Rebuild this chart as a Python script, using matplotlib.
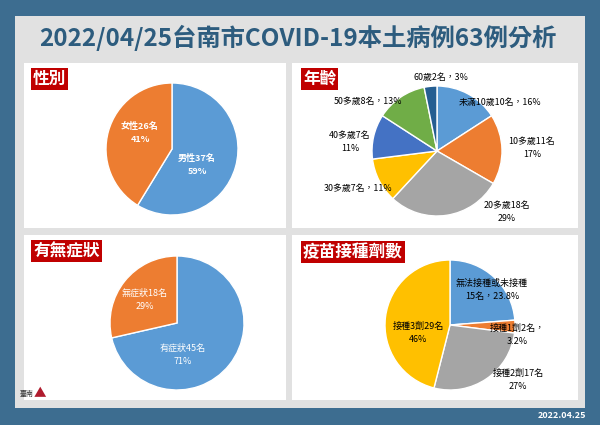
import matplotlib.pyplot as plt
from matplotlib.patches import Rectangle

plt.rcParams['font.family'] = ['Noto Sans CJK TC', 'DejaVu Sans']

# data
sex_labels = ['男性', '女性']
sex_counts = [37, 26]
sex_pct = ['59%', '41%']

age_labels = ['未滿10歲', '10多歲', '20多歲', '30多歲', '40多歲', '50多歲', '60歲']
age_counts = [10, 11, 18, 7, 7, 8, 2]
age_pct = ['16%', '17%', '29%', '11%', '11%', '13%', '3%']

sym_labels = ['有症狀', '無症狀']
sym_counts = [45, 18]
sym_pct = ['71%', '29%']

vac_labels = ['無法接種或未接種', '接種1劑', '接種2劑', '接種3劑']
vac_counts = [15, 2, 17, 29]
vac_pct = ['23.8%', '3.2%', '27%', '46%']

BG = '#3d6d90'
PANEL = '#e1e1e1'
TITLE_C = '#2d5c7e'
TAG = '#c00000'
C_BLUE = '#5b9bd5'
C_ORANGE = '#ed7d31'
C_GRAY = '#a5a5a5'
C_YELLOW = '#ffc000'
C_DBLUE = '#4472c4'
C_GREEN = '#70ad47'
C_NAVY = '#255e91'

W, H = 600, 425
fig = plt.figure(figsize=(6, 4.25), dpi=100)
fig.patch.set_facecolor(BG)


def px_box(x0, y0, x1, y1):
    return [x0 / W, 1 - y1 / H, (x1 - x0) / W, (y1 - y0) / H]


def fx(x):
    return x / W


def fy(y):
    return 1 - y / H


# panels (behind the pie axes)
fig.patches.append(Rectangle((fx(15), fy(408)), (585 - 15) / W, (408 - 16) / H, zorder=-2,
                             transform=fig.transFigure, facecolor=PANEL, edgecolor='none'))
for (x0, y0, x1, y1) in [(24, 63, 286, 228), (292, 63, 578, 228),
                         (24, 235, 286, 400), (292, 235, 578, 400)]:
    fig.patches.append(Rectangle((fx(x0), fy(y1)), (x1 - x0) / W, (y1 - y0) / H, zorder=-1,
                                 transform=fig.transFigure, facecolor='white', edgecolor='none'))

fig.text(fx(298), fy(38), '2022/04/25台南市COVID-19本土病例63例分析', ha='center', va='center',
         fontsize=17.5, fontweight='bold', color=TITLE_C)

# tags
for (x, y, s) in [(33, 79, '性別'), (303, 79, '年齡'), (33, 251, '有無症狀'), (303, 252, '疫苗接種劑數')]:
    fig.text(fx(x), fy(y), s, ha='left', va='center', fontsize=12, fontweight='bold', color='white',
             bbox=dict(boxstyle='square,pad=0.12', facecolor=TAG, edgecolor='none'))

fig.text(fx(586), fy(415), '2022.04.25', ha='right', va='center', fontsize=6.5,
         fontweight='bold', color='white')


def draw_pie(cx, cy, r, counts, colors):
    ax = fig.add_axes(px_box(cx - r, cy - r, cx + r, cy + r))
    ax.pie(counts, colors=colors, startangle=90, counterclock=False, radius=1,
           wedgeprops=dict(edgecolor='white', linewidth=1))
    ax.set_xlim(-1, 1)
    ax.set_ylim(-1, 1)
    ax.set_aspect('equal')
    ax.axis('off')
    return ax


def label(x, y, s, color='black', bold=False, size=6.5):
    fig.text(fx(x), fy(y), s, ha='center', va='center', fontsize=size, color=color,
             fontweight='bold' if bold else 'normal', linespacing=1.6, zorder=5)


# sex
draw_pie(172, 149, 66, sex_counts, [C_BLUE, C_ORANGE])
label(197, 165, f'{sex_labels[0]}{sex_counts[0]}名\n{sex_pct[0]}', 'white', True)
label(140, 133, f'{sex_labels[1]}{sex_counts[1]}名\n{sex_pct[1]}', 'white', True)

# age
draw_pie(437, 151, 65, age_counts, [C_BLUE, C_ORANGE, C_GRAY, C_YELLOW, C_DBLUE, C_GREEN, C_NAVY])
age_pos = [(500, 102, True), (532, 148, False), (507, 212, False), (358, 188, True),
           (350, 142, False), (368, 101, True), (441, 77, True)]
for i, (x, y, one_line) in enumerate(age_pos):
    sep = '，' if one_line else '\n'
    label(x, y, f'{age_labels[i]}{age_counts[i]}名{sep}{age_pct[i]}', size=6.4)

# symptoms
draw_pie(177, 323, 67, sym_counts, [C_BLUE, C_ORANGE])
label(183, 355, f'{sym_labels[0]}{sym_counts[0]}名\n{sym_pct[0]}', 'white')
label(145, 300, f'{sym_labels[1]}{sym_counts[1]}名\n{sym_pct[1]}', 'white')

# vaccine
draw_pie(450, 325, 65, vac_counts, [C_BLUE, C_ORANGE, C_GRAY, C_YELLOW])
label(492, 290, f'{vac_labels[0]}\n{vac_counts[0]}名，{vac_pct[0]}')
label(517, 335, f'{vac_labels[1]}{vac_counts[1]}名，\n{vac_pct[1]}')
label(518, 380, f'{vac_labels[2]}{vac_counts[2]}名\n{vac_pct[2]}')
label(418, 333, f'{vac_labels[3]}{vac_counts[3]}名\n{vac_pct[3]}')

# logo mark
fig.text(fx(20), fy(394), '臺南', ha='left', va='center', fontsize=5, color='#333333')
fig.text(fx(34), fy(394), '▲', ha='left', va='center', fontsize=9, color='#b01c2e')

fig.savefig('out.png', dpi=100, facecolor=BG)
